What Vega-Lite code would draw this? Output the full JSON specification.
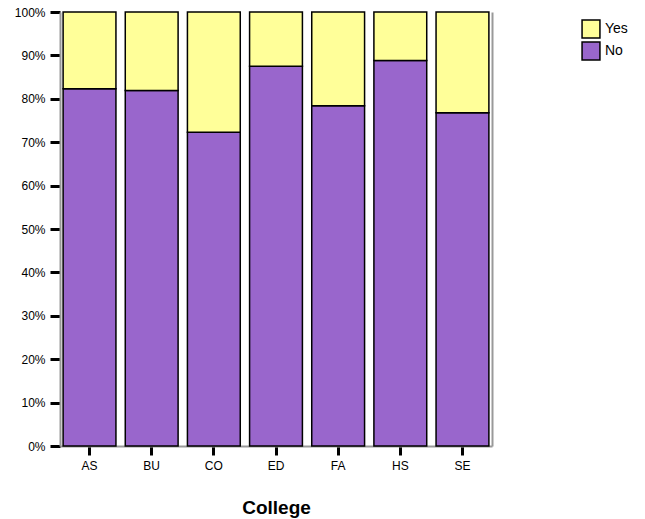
{
  "$schema": "https://vega.github.io/schema/vega-lite/v6.json",
  "autosize": "none",
  "width": 432,
  "height": 434,
  "padding": {"left": 60, "top": 12, "right": 153, "bottom": 73},
  "background": "white",
  "config": {
    "font": "Liberation Sans",
    "view": {"stroke": null}
  },
  "data": {
    "values": [
      {"College": "AS", "Response": "No", "Pct": 0.823},
      {"College": "AS", "Response": "Yes", "Pct": 0.177},
      {"College": "BU", "Response": "No", "Pct": 0.819},
      {"College": "BU", "Response": "Yes", "Pct": 0.181},
      {"College": "CO", "Response": "No", "Pct": 0.723},
      {"College": "CO", "Response": "Yes", "Pct": 0.277},
      {"College": "ED", "Response": "No", "Pct": 0.875},
      {"College": "ED", "Response": "Yes", "Pct": 0.125},
      {"College": "FA", "Response": "No", "Pct": 0.784},
      {"College": "FA", "Response": "Yes", "Pct": 0.216},
      {"College": "HS", "Response": "No", "Pct": 0.888},
      {"College": "HS", "Response": "Yes", "Pct": 0.112},
      {"College": "SE", "Response": "No", "Pct": 0.768},
      {"College": "SE", "Response": "Yes", "Pct": 0.232}
    ]
  },
  "layer": [
    {
      "mark": {"type": "bar", "stroke": "black", "strokeWidth": 1.5},
      "encoding": {
        "x": {
          "field": "College", "type": "nominal",
          "scale": {"paddingInner": 0.15, "paddingOuter": 0.05},
          "axis": {
            "title": "College", "titleFontSize": 19, "titleFontWeight": "bold",
            "titlePadding": 27, "titleColor": "black",
            "labelAngle": 0, "labelFontSize": 12, "labelColor": "black", "labelPadding": 5,
            "domainColor": "#999999", "domainWidth": 2,
            "tickColor": "black", "tickWidth": 3, "tickSize": 9
          }
        },
        "y": {
          "field": "Pct", "type": "quantitative", "stack": "zero",
          "scale": {"domain": [0, 1], "nice": false},
          "axis": {
            "title": null, "format": ".0%", "values": [0, 0.1, 0.2, 0.3, 0.4, 0.5, 0.6, 0.7, 0.8, 0.9, 1],
            "grid": false, "labelFontSize": 12, "labelColor": "black", "labelPadding": 5,
            "domainColor": "#999999", "domainWidth": 2,
            "tickColor": "black", "tickWidth": 3, "tickSize": 10
          }
        },
        "color": {
          "field": "Response", "type": "nominal",
          "scale": {"domain": ["Yes", "No"], "range": ["#FFFF99", "#9966CC"]},
          "legend": {
            "title": null, "orient": "none", "legendX": 521, "legendY": 7,
            "symbolType": "square", "symbolSize": 320, "symbolStrokeColor": "black",
            "symbolStrokeWidth": 1.5, "labelFontSize": 14, "labelColor": "black",
            "rowPadding": -2, "labelOffset": 4
          }
        },
        "order": {"field": "Response", "sort": "ascending"}
      }
    },
    {
      "mark": {"type": "rule", "opacity": 0},
      "encoding": {
        "y": {
          "field": "Pct", "type": "quantitative", "aggregate": "max",
          "scale": {"domain": [0, 1], "nice": false},
          "axis": {
            "orient": "right", "title": null, "labels": false, "ticks": false, "grid": false,
            "domainColor": "#999999", "domainWidth": 2
          }
        }
      }
    }
  ],
  "resolve": {"axis": {"y": "independent"}}
}
